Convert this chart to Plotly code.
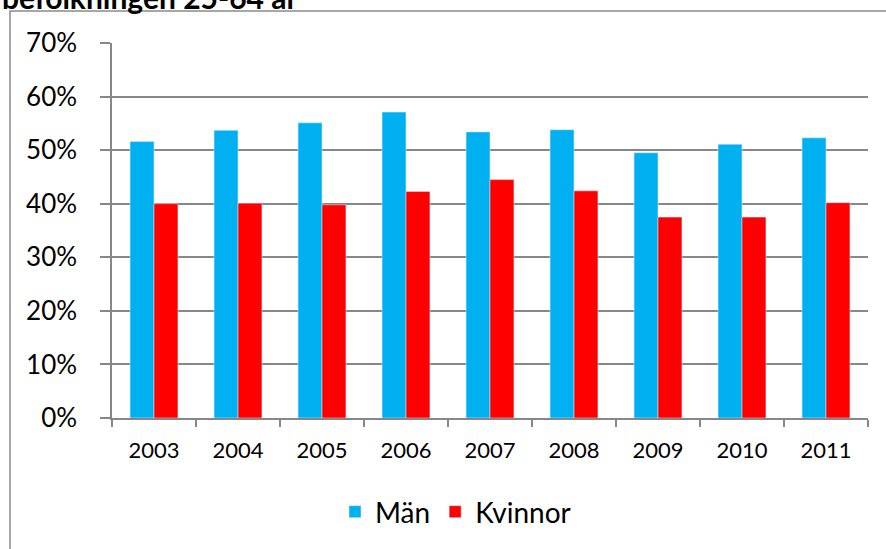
import plotly.graph_objects as go

years = ["2003", "2004", "2005", "2006", "2007", "2008", "2009", "2010", "2011"]
man = [0.516, 0.537, 0.551, 0.571, 0.534, 0.538, 0.495, 0.511, 0.523]
kvinnor = [0.400, 0.401, 0.398, 0.423, 0.445, 0.424, 0.375, 0.375, 0.402]

FONT = "Lato"
GRID = "#878787"

fig = go.Figure()
fig.add_trace(go.Bar(x=years, y=man, name="Män", marker_color="#00B0F0"))
fig.add_trace(go.Bar(x=years, y=kvinnor, name="Kvinnor", marker_color="#FF0000"))

L, R, T, B = 112, 18, 43, 131
W, H = 886, 549
pw = W - L - R
ph = H - T - B

def px(xp):
    return (xp - L) / pw

def py(yp):
    return (H - B - yp) / ph

fig.update_layout(
    width=W, height=H,
    margin=dict(l=L, r=R, t=T, b=B, pad=0),
    paper_bgcolor="white", plot_bgcolor="white",
    font=dict(family=FONT, color="#000000"),
    barmode="group", bargap=0.43, bargroupgap=0,
    showlegend=True,
    legend=dict(orientation="h", x=px(335), xanchor="left", y=py(512), yanchor="middle",
                font=dict(size=28, family=FONT), itemwidth=30, traceorder="normal"),
    xaxis=dict(type="category", showgrid=False, showline=True, linecolor=GRID, linewidth=1.5,
               ticks="outside", tickson="boundaries", ticklen=7, tickcolor=GRID, tickwidth=1.5,
               tickfont=dict(size=22, family=FONT), ticklabelstandoff=12),
    yaxis=dict(range=[0, 0.7], dtick=0.1, tickformat=".0%", showgrid=True, gridcolor=GRID,
               gridwidth=1.5, showline=True, linecolor=GRID, linewidth=1.5, ticks="outside",
               ticklen=10, tickcolor=GRID, tickwidth=1.5, zeroline=False,
               tickfont=dict(size=26, family=FONT), ticklabelstandoff=18),
    shapes=[dict(type="rect", xref="paper", yref="paper", x0=px(10), x1=px(892),
                 y0=py(560), y1=py(11), line=dict(color="#8a8a8a", width=1.5),
                 fillcolor="rgba(0,0,0,0)", layer="below")],
    annotations=[dict(text="<b>befolkningen 25-64 år</b>", xref="paper", yref="paper",
                      x=px(0), y=py(17), xanchor="left", yanchor="bottom", showarrow=False,
                      font=dict(size=30, family=FONT, color="#000000"))],
)

fig.write_html("out.html", config={"displayModeBar": False},
               post_script="document.body.style.margin='0px';document.body.style.overflow='hidden';")
